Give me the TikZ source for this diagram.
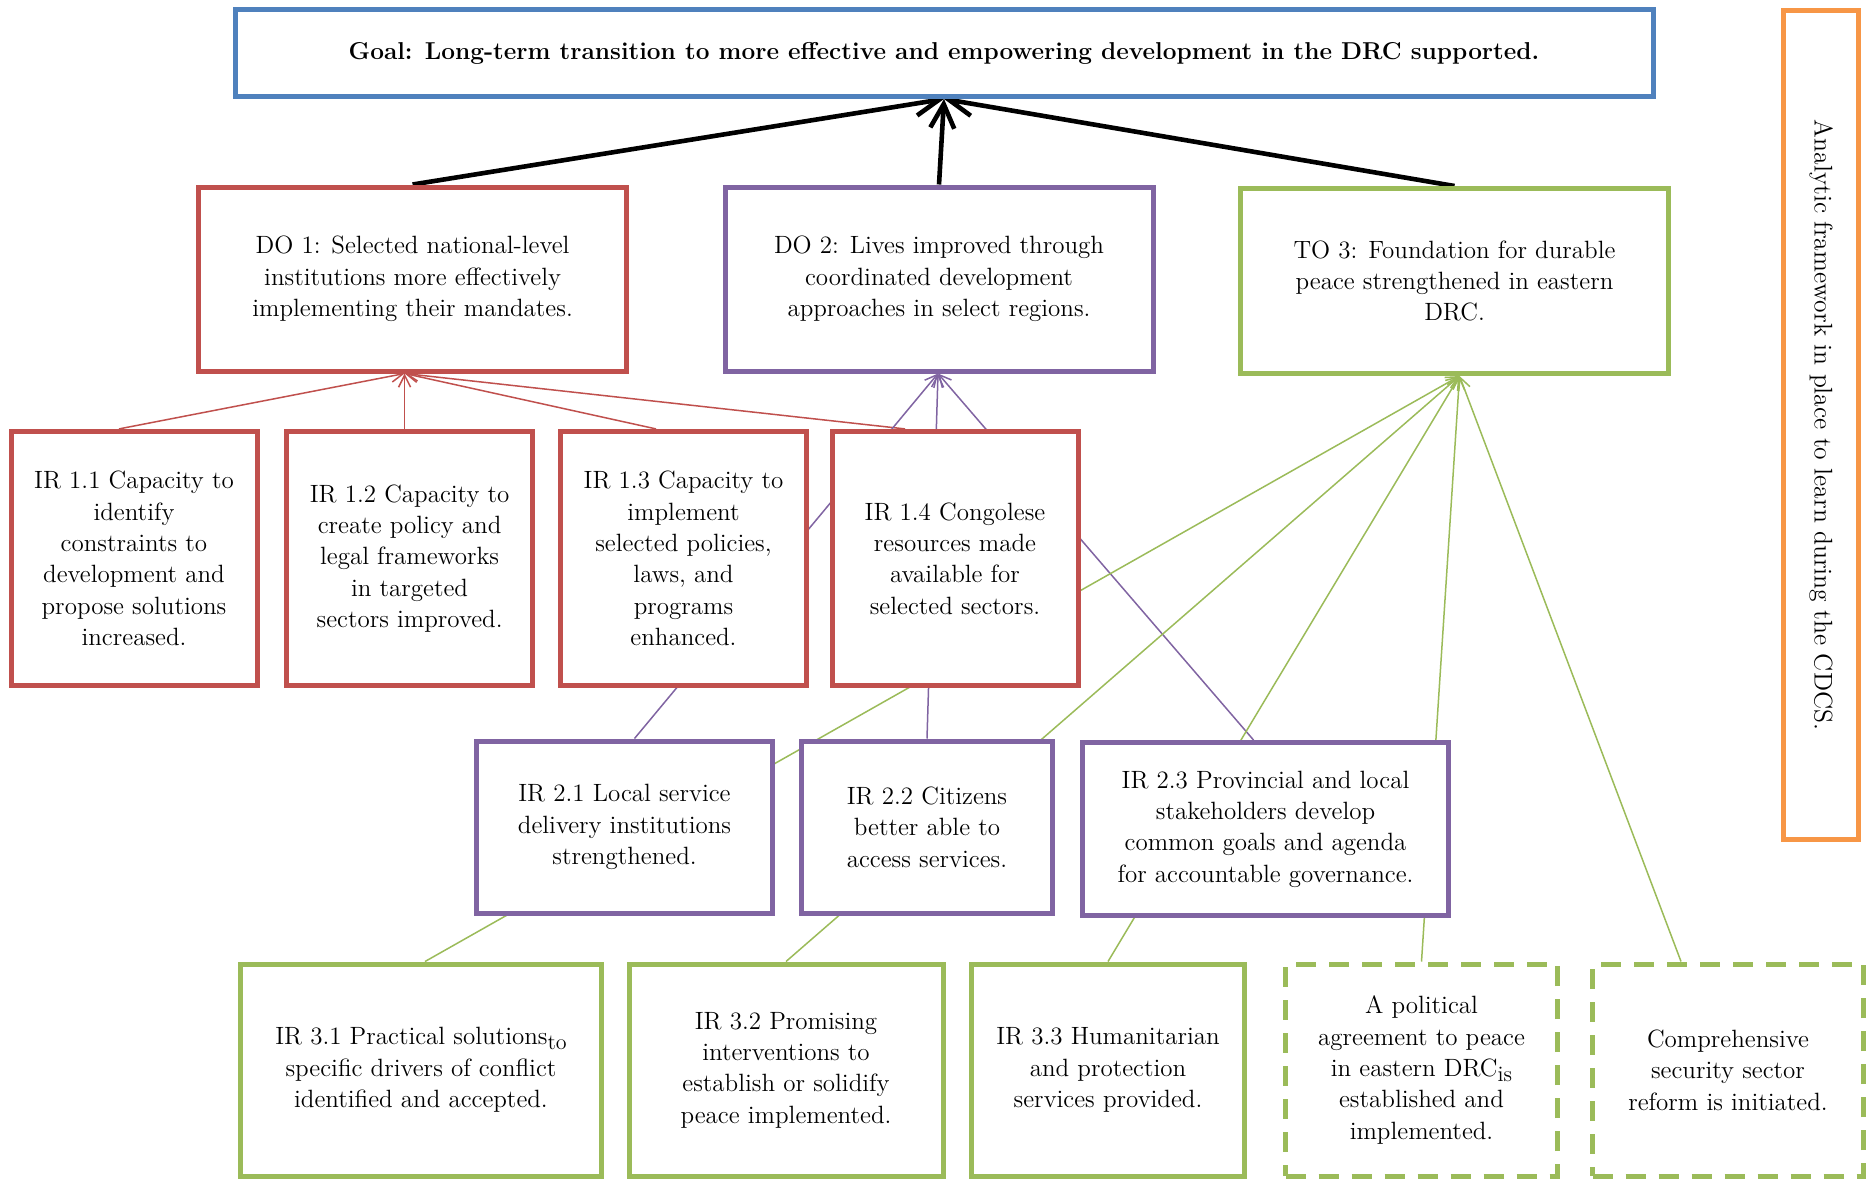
\documentclass[tikz,border=0pt]{standalone}
\usetikzlibrary{arrows.meta,calc}
\definecolor{cred}{HTML}{C0504D}
\definecolor{cpur}{HTML}{8064A2}
\definecolor{cgrn}{HTML}{9BBB59}
\definecolor{cblu}{HTML}{4F81BD}
\definecolor{corg}{HTML}{F79646}
\pgfdeclarelayer{bg}
\pgfsetlayers{bg,main}
\newcommand{\lowtxt}[1]{\raisebox{-0.45ex}{\fontsize{11}{11}\selectfont #1}}
\begin{document}
\begin{tikzpicture}[x=0.5pt,y=-0.5pt,
  box/.style={draw, line width=2.5pt, fill=white, align=center, inner sep=0pt,
    font=\fontsize{12.5}{15.66}\selectfont},
  redbox/.style={box, draw=cred},
  purbox/.style={box, draw=cpur},
  grnbox/.style={box, draw=cgrn},
  dashbox/.style={box, draw=cgrn, dash pattern=on 10pt off 6.5pt},
  sz/.style 2 args={minimum width=#1, minimum height=#2},
  blk/.style={draw=black, line width=2.3pt, -{Straight Barb[length=12pt,width=12pt]}},
  thin/.style={line width=0.75pt, -{Straight Barb[length=6pt,width=6pt]}},
  rarr/.style={thin, draw=cred},
  parr/.style={thin, draw=cpur},
  garr/.style={thin, draw=cgrn}
]
\useasboundingbox (0,0) rectangle (1867,1179);

% goal
\node[box, draw=cblu, sz={709pt}{43.5pt}, font=\fontsize{12.2}{14.5}\selectfont\bfseries] (goal) at (944,53)
  {Goal: Long-term transition to more effective and empowering development in the DRC supported.};

% objectives
\node[redbox, sz={214pt}{92pt}] (do1) at (412.6,279)
  {DO 1: Selected national-level\\institutions more effectively\\implementing their mandates.};
\node[purbox, sz={214pt}{92pt}] (do2) at (939,279)
  {DO 2: Lives improved through\\coordinated development\\approaches in select regions.};
\node[grnbox, sz={214pt}{92.5pt}] (to3) at (1454.5,281)
  {TO 3: Foundation for durable\\peace strengthened in eastern\\DRC.};

% side box
\node[box, draw=corg, sz={37.5pt}{414.5pt}] (side) at (1821,425) {};
\node[rotate=-90, font=\fontsize{12.8}{15}\selectfont, inner sep=0pt] (sidetxt) at (side.center)
  {Analytic framework in place to learn during the CDCS.};

% IR 1.x
\node[redbox, sz={123pt}{127pt}] (ir11) at (134,558.4)
  {IR 1.1 Capacity to\\identify\\constraints to\\development and\\propose solutions\\increased.};
\node[redbox, sz={123pt}{127pt}] (ir12) at (409.6,558.4)
  {IR 1.2 Capacity to\\create policy and\\legal frameworks\\in targeted\\sectors improved.};
\node[redbox, sz={123pt}{127pt}] (ir13) at (683.5,558.4)
  {IR 1.3 Capacity to\\implement\\selected policies,\\laws, and\\programs\\enhanced.};
\node[redbox, sz={123pt}{127pt}] (ir14) at (955,558.4)
  {IR 1.4 Congolese\\resources made\\available for\\selected sectors.};

% IR 2.x
\node[purbox, sz={148pt}{86pt}] (ir21) at (624.5,827)
  {IR 2.1 Local service\\delivery institutions\\strengthened.};
\node[purbox, sz={125.5pt}{86pt}] (ir22) at (927,827)
  {IR 2.2 Citizens\\better able to\\access services.};
\node[purbox, sz={183pt}{86.5pt}] (ir23) at (1265.5,829)
  {IR 2.3 Provincial and local\\stakeholders develop\\common goals and agenda\\for accountable governance.};

% IR 3.x
\node[grnbox, sz={180.5pt}{106pt}] (ir31) at (421,1070)
  {IR 3.1 Practical solutions\lowtxt{to}\\specific drivers of conflict\\identified and accepted.};
\node[grnbox, sz={157pt}{106pt}] (ir32) at (786,1070)
  {IR 3.2 Promising\\interventions to\\establish or solidify\\peace implemented.};
\node[grnbox, sz={136.5pt}{106pt}] (ir33) at (1108,1070)
  {IR 3.3 Humanitarian\\and protection\\services provided.};
\node[dashbox, sz={136pt}{106pt}] (pol) at (1421.5,1070)
  {A political\\agreement to peace\\in eastern DRC\lowtxt{is}\\established and\\implemented.};
\node[dashbox, sz={135.5pt}{106pt}] (cmp) at (1728,1070)
  {Comprehensive\\security sector\\reform is initiated.};

\begin{pgfonlayer}{bg}
% to goal
\draw[blk] (do1.north) -- (goal.south);
\draw[blk] (do2.north) -- (goal.south);
\draw[blk] (to3.north) -- (goal.south);
% to DO 1
\draw[rarr] ([xshift=-7.5pt]ir11.north) -- ([xshift=-4pt]do1.south);
\draw[rarr] ([xshift=-2.5pt]ir12.north) -- ([xshift=-4pt]do1.south);
\draw[rarr] ([xshift=-13.75pt]ir13.north) -- ([xshift=-4pt]do1.south);
\draw[rarr] ([xshift=-25pt]ir14.north) -- ([xshift=-4pt]do1.south);
% to DO 2
\draw[parr] ([xshift=5pt]ir21.north) -- ([xshift=-0.5pt]do2.south);
\draw[parr] (ir22.north) -- ([xshift=-0.5pt]do2.south);
\draw[parr] ([xshift=-6pt]ir23.north) -- ([xshift=-0.5pt]do2.south);
% to TO 3
\draw[garr] ([xshift=2pt]ir31.north) -- ([xshift=2.5pt]to3.south);
\draw[garr] (ir32.north) -- ([xshift=2.5pt]to3.south);
\draw[garr] (ir33.north) -- ([xshift=2.5pt]to3.south);
\draw[garr] (pol.north) -- ([xshift=2.5pt]to3.south);
\draw[garr] ([xshift=-23.5pt]cmp.north) -- ([xshift=2.5pt]to3.south);
\end{pgfonlayer}
\end{tikzpicture}
\end{document}
